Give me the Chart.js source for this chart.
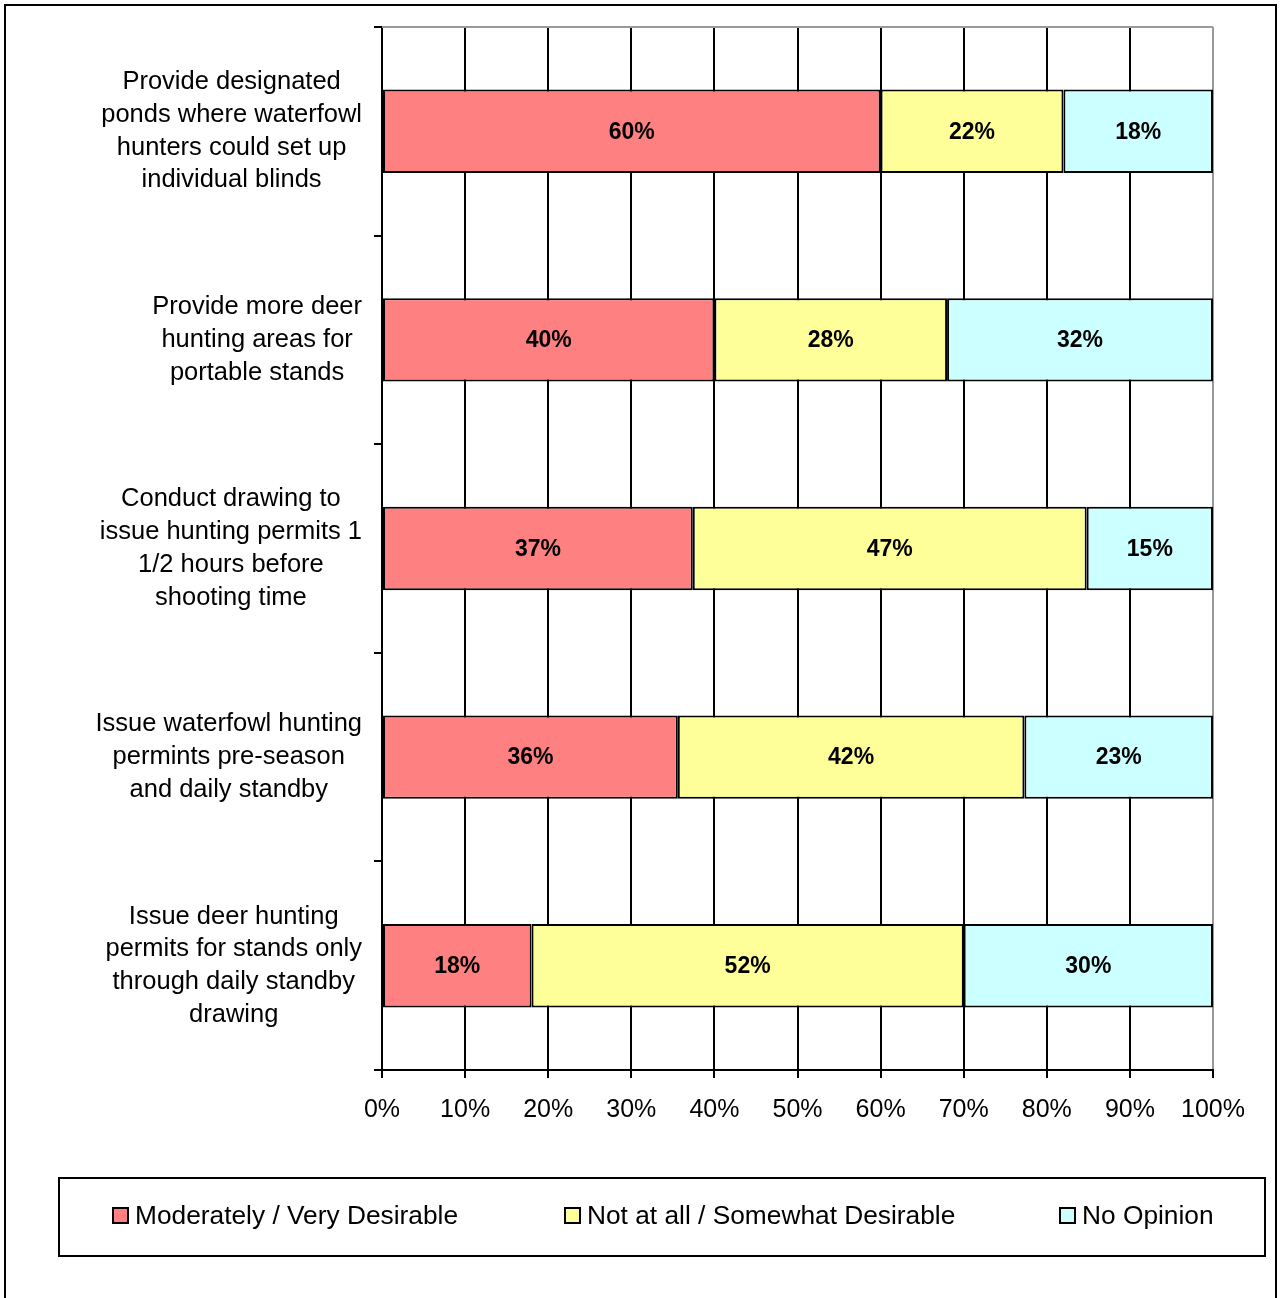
<!DOCTYPE html>
<html>
<head>
<meta charset="utf-8">
<script src="https://cdn.jsdelivr.net/npm/chart.js@4"></script>
<style>
  body { margin: 0; background: #fff; }
  canvas { display: block; }
</style>
</head>
<body>
<canvas id="chart" width="1282" height="1298"></canvas>
<script>
const categories = [
  ['Provide designated', 'ponds where waterfowl', 'hunters could set up', 'individual blinds'],
  ['Provide more deer', 'hunting areas for', 'portable stands'],
  ['Conduct drawing to', 'issue hunting permits 1', '1/2 hours before', 'shooting time'],
  ['Issue waterfowl hunting', 'permints pre-season', 'and daily standby'],
  ['Issue deer hunting', 'permits for stands only', 'through daily standby', 'drawing'],
];
const desirable = [60, 40, 37.4, 35.6, 18];
const notDesirable = [22, 28, 47.4, 41.7, 52];
const noOpinion = [18, 32, 15.2, 22.7, 30];
const seriesNames = ['Moderately / Very Desirable', 'Not at all / Somewhat Desirable', 'No Opinion'];
const xTicks = [0, 10, 20, 30, 40, 50, 60, 70, 80, 90, 100];

const FONT = '"Liberation Sans", Arial, sans-serif';
let ctx = document.getElementById('chart');

// white page, outer frame and the top gray plot edge
const framePlugin = {
  id: 'frame',
  beforeDraw(chart) {
    const c = chart.ctx;
    c.save();
    c.fillStyle = '#fff';
    c.fillRect(0, 0, chart.width, chart.height);
    c.restore();
  },
  afterDraw(chart) {
    const c = chart.ctx;
    const a = chart.chartArea;
    c.save();
    c.strokeStyle = '#000';
    c.lineWidth = 2;
    c.strokeRect(5, 5, 1271, chart.height + 10);
    c.strokeStyle = '#999';
    c.beginPath();
    c.moveTo(a.left, a.top);
    c.lineTo(a.right, a.top);
    c.stroke();
    c.restore();
  },
};

// category names: block right-aligned, lines centred inside the block
const catLabels = {
  id: 'catLabels',
  afterDraw(chart) {
    const c = chart.ctx;
    const y = chart.scales.y;
    const right = 362, lh = 32.7;
    c.save();
    c.font = '25.5px ' + FONT;
    c.fillStyle = '#000';
    c.textAlign = 'center';
    c.textBaseline = 'middle';
    chart.data.labels.forEach((lines, i) => {
      const w = Math.max(...lines.map(l => c.measureText(l).width));
      const cx = right - w / 2;
      const cy = y.getPixelForValue(i);
      const y0 = cy - (lines.length - 1) * lh / 2;
      lines.forEach((l, j) => c.fillText(l, cx, y0 + j * lh));
    });
    c.restore();
  },
};

// percentage text in the middle of each segment
const valueLabels = {
  id: 'valueLabels',
  afterDatasetsDraw(chart) {
    const c = chart.ctx;
    c.save();
    c.font = 'bold 23px ' + FONT;
    c.fillStyle = '#000';
    c.textAlign = 'center';
    c.textBaseline = 'middle';
    chart.data.datasets.forEach((ds, di) => {
      chart.getDatasetMeta(di).data.forEach((bar, i) => {
        const p = bar.getProps(['x', 'y', 'base'], true);
        c.fillText(Math.round(ds.data[i]) + '%', (p.x + p.base) / 2, p.y + 1);
      });
    });
    c.restore();
  },
};

// boxed legend under the axis
const legendBox = {
  id: 'legendBox',
  afterDraw(chart) {
    const c = chart.ctx;
    const xs = [113, 565, 1060];
    const cy = 1216;
    c.save();
    c.strokeStyle = '#000';
    c.lineWidth = 2;
    c.strokeRect(59, 1178, 1206, 78);
    c.font = '26.3px ' + FONT;
    c.textBaseline = 'middle';
    c.textAlign = 'left';
    chart.data.datasets.forEach((ds, i) => {
      c.fillStyle = ds.backgroundColor;
      c.fillRect(xs[i], cy - 8, 15, 15);
      c.strokeRect(xs[i], cy - 8, 15, 15);
      c.fillStyle = '#000';
      c.fillText(ds.label, xs[i] + 22, cy + 1);
    });
    c.restore();
  },
};

const barStyle = {
  borderColor: '#000',
  borderWidth: 2,
  borderSkipped: false,
  barPercentage: 0.4,
  categoryPercentage: 1,
};

let chart = new Chart(ctx, {
  type: 'bar',
  data: {
    labels: categories,
    datasets: [
      { label: seriesNames[0], data: desirable, backgroundColor: '#FF8080', ...barStyle },
      { label: seriesNames[1], data: notDesirable, backgroundColor: '#FFFF99', ...barStyle },
      { label: seriesNames[2], data: noOpinion, backgroundColor: '#CCFFFF', ...barStyle },
    ],
  },
  options: {
    indexAxis: 'y',
    responsive: false,
    animation: false,
    layout: { padding: { left: 0, top: 27, right: 69, bottom: 168 } },
    plugins: {
      legend: { display: false },
      tooltip: { enabled: false },
    },
    scales: {
      x: {
        stacked: true,
        min: 0,
        max: 100,
        afterFit(scale) { scale.height = 60; },
        afterBuildTicks(scale) { scale.ticks = xTicks.map(v => ({ value: v })); },
        grid: {
          color: (c) => (c.tick && c.tick.value === 100 ? '#999' : '#000'),
          tickColor: '#000',
          lineWidth: 2,
          tickLength: 8,
        },
        border: { display: true, color: '#000', width: 2 },
        ticks: {
          padding: 17,
          color: '#000',
          font: { family: FONT, size: 25 },
          callback: (v) => v + '%',
        },
      },
      y: {
        stacked: true,
        afterFit(scale) { scale.width = 382; },
        grid: {
          offset: true,
          drawOnChartArea: false,
          tickColor: '#000',
          lineWidth: 2,
          tickLength: 8,
        },
        border: { display: true, color: '#000', width: 2 },
        ticks: { display: false },
      },
    },
  },
  plugins: [framePlugin, catLabels, valueLabels, legendBox],
});
</script>
</body>
</html>
